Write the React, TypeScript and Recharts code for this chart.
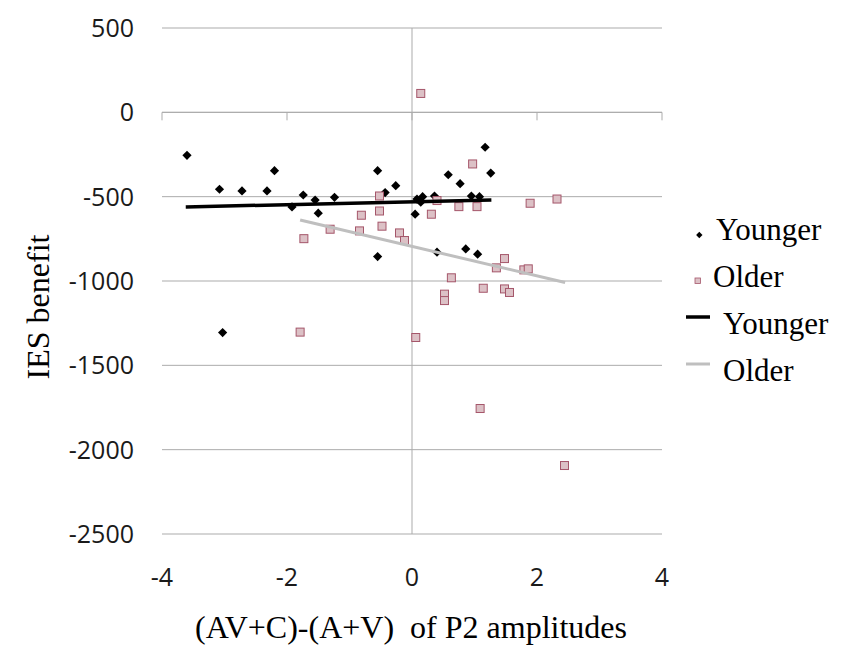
import React from 'react';
import {
  ScatterChart,
  Scatter,
  XAxis,
  YAxis,
  CartesianGrid,
  ReferenceLine,
  ReferenceDot,
  Legend,
} from 'recharts';

// Younger group: (x = (AV+C)-(A+V) P2 amplitude, y = IES benefit)
const youngerX = [-3.6, -3.08, -3.03, -2.72, -2.32, -2.2, -1.92, -1.74, -1.55, -1.5, -1.24, -0.55, -0.55, -0.43, -0.26, 0.05, 0.08, 0.14, 0.17, 0.36, 0.4, 0.58, 0.77, 0.86, 0.95, 1.05, 1.08, 1.17, 1.26];
const youngerY = [-255, -456, -1306, -466, -466, -346, -561, -490, -520, -598, -504, -346, -855, -476, -435, -604, -514, -533, -500, -496, -829, -370, -423, -810, -496, -841, -500, -207, -360];

// Older group
const olderX = [-1.79, -1.73, -1.31, -0.84, -0.81, -0.52, -0.52, -0.48, -0.2, -0.12, 0.06, 0.14, 0.31, 0.4, 0.52, 0.52, 0.63, 0.75, 0.97, 1.04, 1.09, 1.14, 1.35, 1.48, 1.48, 1.56, 1.79, 1.86, 1.89, 2.32, 2.44];
const olderY = [-1303, -749, -693, -703, -610, -496, -585, -675, -715, -760, -1335, 112, -604, -523, -1078, -1116, -981, -559, -306, -559, -1756, -1043, -922, -867, -1047, -1068, -934, -928, -539, -514, -2094];

// Linear trend lines (end points)
const youngerTrendX = [-3.62, 1.27];
const youngerTrendY = [-561, -520];
const olderTrendX = [-1.79, 2.45];
const olderTrendY = [-638, -1009];

const xTicks = [-4, -2, 0, 2, 4];
const yTicks = [-2500, -2000, -1500, -1000, -500, 0, 500];

const zip = (xs: number[], ys: number[]) => xs.map((x, i) => ({ x, y: ys[i] }));
const younger = zip(youngerX, youngerY);
const older = zip(olderX, olderY);
const youngerTrend = zip(youngerTrendX, youngerTrendY);
const olderTrend = zip(olderTrendX, olderTrendY);

const GRID = '#ababab';
const SQ_FILL = '#dcc1c6';
const SQ_STROKE = '#a5566a';
const YOUNG_LINE = '#000000';
const OLD_LINE = '#bfbfbf';

const Diamond = (p: any) => {
  const { cx, cy } = p;
  const r = 4.6;
  return (
    <polygon
      points={`${cx},${cy - r} ${cx + r},${cy} ${cx},${cy + r} ${cx - r},${cy}`}
      fill="#000"
    />
  );
};

const Square = (p: any) => {
  const { cx, cy } = p;
  return (
    <rect x={cx - 4} y={cy - 4} width={8} height={8} fill={SQ_FILL} stroke={SQ_STROKE} strokeWidth={1} />
  );
};

const NoShape = () => <g />;

const AxisTick = (p: any) => {
  const { cx, cy } = p;
  return <line x1={cx} y1={cy} x2={cx} y2={cy + 8} stroke={GRID} strokeWidth={1} />;
};

const legendFont = { fontFamily: '"Liberation Serif", "Times New Roman", serif', fontSize: 31, fill: '#000' };

const rank = (e: any) => {
  if (e.type === 'diamond') return 0;
  if (e.type === 'square') return 1;
  if (e.color === YOUNG_LINE) return 2;
  return 3;
};

const renderLegend = (props: any) => {
  const payload = [...(props.payload || [])].sort((a: any, b: any) => rank(a) - rank(b));
  return (
    <svg width={190} height={200} style={{ display: 'block' }}>
      {payload.map((e: any, i: number) => {
        const base = 40 + 47 * i;
        const mid = base - 6;
        let marker: any = null;
        let tx = 56;
        if (e.type === 'diamond') {
          const cx = 39.3, cy = mid + 1, r = 3.2;
          marker = <polygon points={`${cx},${cy - r} ${cx + r},${cy} ${cx},${cy + r} ${cx - r},${cy}`} fill="#000" />;
          tx = 56;
        } else if (e.type === 'square') {
          marker = <rect x={35} y={mid - 3} width={5.5} height={5.5} fill={SQ_FILL} stroke={SQ_STROKE} strokeWidth={0.8} />;
          tx = 53;
        } else {
          marker = <line x1={26} x2={50} y1={mid - 11} y2={mid - 11} stroke={e.color} strokeWidth={e.color === YOUNG_LINE ? 3.5 : 3} />;
          tx = 63;
        }
        return (
          <g key={i}>
            {marker}
            <text x={tx} y={base} style={legendFont as any}>
              {e.value}
            </text>
          </g>
        );
      })}
    </svg>
  );
};

const tickStyle = { fontFamily: '"Open Sans", sans-serif', fontSize: 25, fill: '#1a1a1a' };
const titleFont = '"Liberation Serif", "Times New Roman", serif';

export default function App() {
  return (
    <div style={{ position: 'absolute', left: 0, top: 0, width: 850, height: 657, background: '#fff' }}>
      <ScatterChart width={850} height={657} margin={{ top: 28, right: 188, bottom: 19, left: 0 }}>
        <CartesianGrid vertical={false} stroke={GRID} strokeWidth={1} />
        <XAxis
          type="number"
          dataKey="x"
          domain={[-4, 4]}
          ticks={xTicks}
          allowDataOverflow
          axisLine={false}
          tickLine={false}
          tickSize={0}
          tickMargin={34}
          height={104}
          tick={tickStyle as any}
        />
        <YAxis
          type="number"
          dataKey="y"
          domain={[-2500, 500]}
          ticks={yTicks}
          allowDataOverflow
          axisLine={false}
          tickLine={false}
          tickSize={0}
          tickMargin={28}
          width={162}
          tick={tickStyle as any}
        />
        <ReferenceLine x={0} stroke={GRID} strokeWidth={1} />
        <ReferenceLine y={0} stroke={GRID} strokeWidth={1} />
        {xTicks.map((t) => (
          <ReferenceDot key={t} x={t} y={0} r={0} shape={AxisTick} />
        ))}
        <Scatter name="Younger" data={younger} fill="#000" shape={Diamond} legendType="diamond" isAnimationActive={false} />
        <Scatter name="Older" data={older} fill={SQ_FILL} shape={Square} legendType="square" isAnimationActive={false} />
        <Scatter
          name="Younger"
          data={youngerTrend}
          fill={YOUNG_LINE}
          line={{ stroke: YOUNG_LINE, strokeWidth: 3.5 }}
          shape={NoShape}
          legendType="line"
          isAnimationActive={false}
        />
        <Scatter
          name="Older"
          data={olderTrend}
          fill={OLD_LINE}
          line={{ stroke: OLD_LINE, strokeWidth: 3 }}
          shape={NoShape}
          legendType="line"
          isAnimationActive={false}
        />
        <Legend
          layout="vertical"
          align="center"
          verticalAlign="middle"
          content={renderLegend}
          wrapperStyle={{ left: 660, top: 200, width: 190, height: 200 }}
        />
      </ScatterChart>
      <svg
        width={850}
        height={657}
        style={{ position: 'absolute', left: 0, top: 0, pointerEvents: 'none' }}
      >
        <text
          x={411}
          y={638}
          textAnchor="middle"
          style={{ fontFamily: titleFont, fontSize: 32, fill: '#000', whiteSpace: 'pre' }}
        >
          {'(AV+C)-(A+V)  of P2 amplitudes'}
        </text>
        <text
          x={49}
          y={307}
          textAnchor="middle"
          transform="rotate(-90 49 307)"
          style={{ fontFamily: titleFont, fontSize: 32, fill: '#000' }}
        >
          IES benefit
        </text>
      </svg>
    </div>
  );
}
